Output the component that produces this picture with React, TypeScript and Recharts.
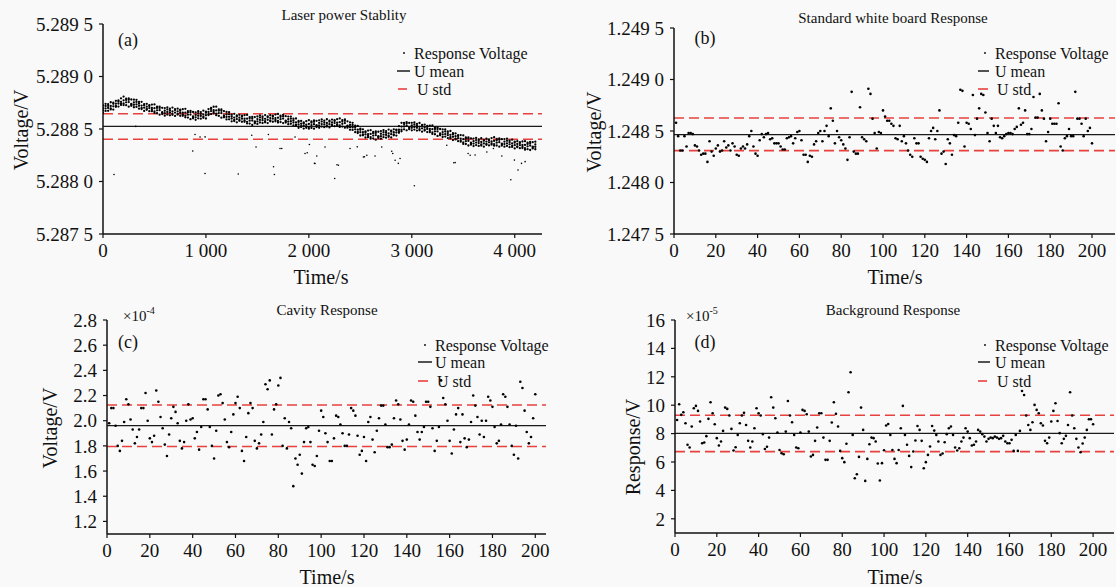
import React from 'react';
import { ScatterChart, Scatter, XAxis, YAxis, ReferenceLine } from 'recharts';

const W = 1116;
const H = 587;
const XH = 30;
const YW = 80;
const SERIF = "'Liberation Serif', 'Times New Roman', serif";
const RED = '#e8413e';
const INK = '#111';

// sampling instants for panels b, c, d (one reading per second)
const sampleTimes = Array.from({ length: 200 }, (_, i) => i + 1);

// (a) laser power: dense band, [time s, readings in µV above 5.288 V]
const aBandRows: number[][] = [
  [0, 724, 699, 676, 652], [25, 720, 696, 672, 740], [50, 700, 736, 673, 720], [75, 755, 697, 719, 686],
  [100, 740, 685, 750, 716], [125, 711, 741, 768, 719], [150, 772, 714, 743, 763], [175, 742, 792, 729, 759],
  [200, 773, 743, 809, 728], [225, 727, 777, 754, 789], [250, 778, 756, 713, 791], [275, 732, 781, 739, 721],
  [300, 779, 754, 731, 707], [325, 758, 734, 710, 778], [350, 721, 757, 694, 741], [375, 759, 701, 723, 690],
  [400, 727, 672, 737, 703], [425, 683, 713, 740, 691], [450, 728, 670, 699, 719], [475, 683, 733, 670, 700],
  [500, 698, 668, 734, 653], [525, 651, 701, 678, 713], [550, 701, 679, 636, 714], [575, 653, 702, 660, 642],
  [600, 699, 674, 651, 627], [625, 686, 662, 638, 706], [650, 657, 693, 630, 677], [675, 704, 646, 668, 635],
  [700, 680, 625, 690, 656], [725, 637, 667, 694, 645], [750, 684, 626, 655, 675], [775, 639, 689, 626, 656],
  [800, 656, 626, 692, 611], [825, 609, 659, 636, 671], [850, 659, 637, 594, 672], [875, 613, 662, 620, 602],
  [900, 659, 634, 611, 587], [925, 650, 626, 602, 670], [950, 625, 661, 598, 645], [975, 675, 617, 639, 606],
  [1000, 655, 600, 665, 631], [1025, 633, 663, 690, 641], [1050, 700, 642, 671, 691], [1075, 662, 712, 649, 679],
  [1100, 677, 647, 713, 632], [1125, 625, 675, 652, 687], [1150, 673, 651, 608, 686], [1175, 622, 671, 629, 611],
  [1200, 663, 638, 615, 591], [1225, 640, 616, 592, 660], [1250, 600, 636, 573, 620], [1275, 645, 587, 609, 576],
  [1300, 619, 564, 629, 595], [1325, 578, 608, 635, 586], [1350, 627, 569, 598, 618], [1375, 582, 632, 569, 599],
  [1400, 598, 568, 634, 553], [1425, 552, 602, 579, 614], [1450, 603, 581, 538, 616], [1475, 565, 614, 572, 554],
  [1500, 620, 595, 572, 548], [1525, 610, 586, 562, 630], [1550, 584, 620, 557, 604], [1575, 633, 575, 597, 564],
  [1600, 611, 556, 621, 587], [1625, 574, 604, 631, 582], [1650, 627, 569, 598, 618], [1675, 587, 637, 574, 604],
  [1700, 607, 577, 643, 562], [1725, 566, 616, 593, 628], [1750, 621, 599, 556, 634], [1775, 573, 622, 580, 562],
  [1800, 618, 593, 570, 546], [1825, 598, 574, 550, 618], [1850, 562, 598, 535, 582], [1875, 600, 542, 564, 531],
  [1900, 567, 512, 577, 543], [1925, 520, 550, 577, 528], [1950, 562, 504, 533, 553], [1975, 525, 575, 512, 542],
  [2000, 548, 518, 584, 503], [2025, 510, 560, 537, 572], [2050, 568, 546, 503, 581], [2075, 529, 578, 536, 518],
  [2100, 583, 558, 535, 511], [2125, 571, 547, 523, 591], [2150, 544, 580, 517, 564], [2175, 593, 535, 557, 524],
  [2200, 570, 515, 580, 546], [2225, 533, 563, 590, 541], [2250, 585, 527, 556, 576], [2275, 544, 594, 531, 561],
  [2300, 565, 535, 601, 520], [2325, 523, 573, 550, 585], [2350, 578, 556, 513, 591], [2375, 524, 573, 531, 513],
  [2400, 564, 539, 516, 492], [2425, 539, 515, 491, 559], [2450, 497, 533, 470, 517], [2475, 530, 472, 494, 461],
  [2500, 493, 438, 503, 469], [2525, 440, 470, 497, 448], [2550, 477, 419, 448, 468], [2575, 435, 485, 422, 452],
  [2600, 453, 423, 489, 408], [2625, 410, 460, 437, 472], [2650, 463, 441, 398, 476], [2675, 425, 474, 432, 414],
  [2700, 480, 455, 432, 408], [2725, 470, 446, 422, 490], [2750, 444, 480, 417, 464], [2775, 495, 437, 459, 426],
  [2800, 475, 420, 485, 451], [2825, 440, 470, 497, 448], [2850, 495, 437, 466, 486], [2875, 477, 527, 464, 494],
  [2900, 523, 493, 559, 478], [2925, 497, 547, 524, 559], [2950, 552, 530, 487, 565], [2975, 509, 558, 516, 498],
  [3000, 559, 534, 511, 487], [3025, 543, 519, 495, 563], [3050, 512, 548, 485, 532], [3075, 557, 499, 521, 488],
  [3100, 530, 475, 540, 506], [3125, 485, 515, 542, 493], [3150, 529, 471, 500, 520], [3175, 483, 533, 470, 500],
  [3200, 498, 468, 534, 453], [3225, 450, 500, 477, 512], [3250, 499, 477, 434, 512], [3275, 451, 500, 458, 440],
  [3300, 496, 471, 448, 424], [3325, 476, 452, 428, 496], [3350, 441, 477, 414, 461], [3375, 481, 423, 445, 412],
  [3400, 450, 395, 460, 426], [3425, 401, 431, 458, 409], [3450, 442, 384, 413, 433], [3475, 392, 442, 379, 409],
  [3500, 403, 373, 439, 358], [3525, 357, 407, 384, 419], [3550, 408, 386, 343, 421], [3575, 362, 411, 369, 351],
  [3600, 409, 384, 361, 337], [3625, 395, 371, 347, 415], [3650, 366, 402, 339, 386], [3675, 412, 354, 376, 343],
  [3700, 387, 332, 397, 363], [3725, 350, 380, 407, 358], [3750, 402, 344, 373, 393], [3775, 364, 414, 351, 381],
  [3800, 386, 356, 422, 341], [3825, 343, 393, 370, 405], [3850, 397, 375, 332, 410], [3875, 354, 403, 361, 343],
  [3900, 404, 379, 356, 332], [3925, 387, 363, 339, 407], [3950, 354, 390, 327, 374], [3975, 398, 340, 362, 329],
  [4000, 370, 315, 380, 346], [4025, 327, 357, 384, 335], [4050, 375, 317, 346, 366], [4075, 331, 381, 318, 348],
  [4100, 348, 318, 384, 303], [4125, 308, 358, 335, 370], [4150, 365, 343, 300, 378], [4175, 326, 375, 333, 315],
  [4200, 379, 354, 331, 307],
];

// (a) scattered low readings below the band, [time s, µV above 5.288 V]
const aLowRows: number[][] = [
  [107, 66], [318, 525], [872, 291], [894, 447], [943, 424], [991, 76], [992, 425],
  [1314, 72], [1445, 440], [1487, 329], [1607, 447], [1657, 141], [1665, 66], [1720, 314],
  [1737, 314], [1866, 424], [1963, 266], [1984, 274], [2005, 352], [2054, 173], [2060, 171],
  [2077, 243], [2157, 329], [2251, 28], [2273, 160], [2287, 155], [2400, 314], [2470, 330],
  [2530, 234], [2540, 236], [2563, 250], [2643, 243], [2708, 329], [2805, 288], [2815, 267],
  [2838, 202], [2869, 173], [2886, 219], [3025, -41], [3340, 345], [3408, 179], [3421, 180],
  [3547, 267], [3567, 250], [3615, 252], [3729, 281], [3793, 314], [3875, 243], [3962, 16],
  [3997, 204], [4032, 110], [4066, 173], [4101, 189],
];

const aMean = 5.288525;
const aStdHi = 5.288645;
const aStdLo = 5.288403;

// (b) standard white board, readings in 1e-5 V above 1.248 V
const bOffset1e5 = [
  58, 45, 31, 31, 45, 35, 48, 48, 47, 36, 35, 31, 27, 28, 28, 20, 40, 30, 26, 33,
  36, 30, 31, 40, 34, 36, 31, 38, 35, 27, 26, 33, 35, 33, 37, 45, 50, 35, 28, 26,
  41, 47, 44, 47, 48, 42, 43, 38, 38, 38, 35, 32, 32, 43, 44, 45, 38, 43, 49, 50,
  41, 27, 27, 20, 26, 25, 37, 40, 48, 50, 40, 50, 55, 45, 72, 60, 38, 50, 44, 41,
  37, 33, 22, 44, 88, 30, 28, 28, 73, 44, 42, 40, 91, 86, 62, 48, 33, 49, 48, 70,
  64, 60, 60, 57, 55, 43, 42, 55, 40, 45, 38, 31, 27, 25, 43, 38, 38, 25, 23, 22,
  20, 43, 50, 53, 42, 50, 70, 28, 30, 18, 42, 38, 27, 46, 45, 58, 90, 89, 35, 58,
  57, 52, 85, 46, 62, 72, 86, 85, 68, 48, 40, 62, 55, 48, 55, 44, 43, 45, 47, 48,
  48, 47, 52, 54, 72, 56, 58, 70, 47, 47, 52, 83, 63, 63, 86, 70, 62, 40, 49, 62,
  57, 57, 57, 77, 35, 31, 43, 45, 52, 45, 45, 88, 62, 62, 57, 45, 62, 50, 53, 38,
];
const bMean = 1.248464;
const bStdHi = 1.248626;
const bStdLo = 1.248309;

// (c) cavity response, in units of 1e-4 V
const cVolt = [
  1.98, 2.10, 2.10, 1.96, 1.80, 1.76, 1.84, 1.99, 2.17, 2.13, 2.01, 1.93, 1.82, 1.87, 1.93, 2.10, 2.10, 2.22, 2.00, 1.86,
  1.83, 1.88, 2.24, 2.15, 2.03, 1.94, 1.81, 1.72, 1.89, 2.02, 2.11, 2.07, 1.98, 1.84, 1.78, 1.83, 2.00, 2.13, 2.01, 2.02,
  1.86, 1.91, 1.77, 1.95, 2.17, 2.17, 2.09, 1.95, 1.80, 1.70, 1.92, 2.20, 2.21, 2.14, 2.01, 1.83, 1.79, 1.91, 2.05, 2.14,
  2.19, 2.10, 1.76, 1.68, 1.87, 2.06, 2.14, 2.10, 1.84, 1.78, 1.82, 1.89, 1.99, 2.29, 2.25, 2.32, 1.89, 2.09, 2.13, 2.28,
  2.34, 1.80, 2.02, 1.78, 1.99, 1.94, 1.48, 1.70, 1.65, 1.73, 1.58, 1.83, 1.94, 1.95, 1.83, 1.65, 1.64, 1.72, 1.92, 2.08,
  2.03, 1.90, 1.83, 1.68, 1.68, 1.86, 2.04, 2.03, 1.97, 1.90, 1.80, 1.80, 1.89, 2.10, 2.08, 2.04, 1.88, 1.73, 1.76, 1.87,
  1.68, 1.99, 2.03, 1.85, 1.75, 1.92, 2.02, 2.12, 2.12, 1.97, 1.79, 1.79, 1.81, 2.02, 2.16, 2.13, 2.01, 1.84, 1.77, 1.85,
  1.97, 2.16, 2.15, 2.04, 1.91, 1.85, 1.91, 1.95, 2.15, 2.15, 2.11, 1.94, 1.76, 1.84, 1.95, 2.32, 2.18, 2.13, 2.00, 1.84,
  1.74, 1.93, 2.05, 2.10, 1.83, 2.05, 1.86, 1.79, 1.85, 1.99, 2.20, 2.12, 2.03, 1.89, 2.00, 1.87, 2.00, 2.19, 2.16, 2.11,
  1.95, 1.82, 1.84, 1.97, 2.21, 2.19, 2.11, 1.97, 1.80, 1.73, 1.96, 1.70, 2.31, 2.26, 2.08, 1.91, 1.82, 1.87, 2.02, 2.21,
];
const cMean = 1.961;
const cStdHi = 2.125;
const cStdLo = 1.795;

// (d) background response, in units of 1e-5 V
const dResp = [
  8.96, 10.07, 9.32, 9.50, 8.73, 7.21, 7.02, 8.50, 9.79, 9.95, 9.60, 8.85, 7.32, 7.37, 7.82, 9.04, 10.21, 9.43, 8.66, 7.68,
  7.16, 7.44, 8.19, 9.83, 9.74, 9.27, 8.33, 6.81, 7.04, 7.91, 8.73, 9.27, 9.46, 8.61, 7.49, 7.02, 7.44, 8.38, 9.79, 9.43,
  9.27, 7.96, 6.92, 7.07, 7.72, 10.56, 9.83, 9.08, 8.07, 6.85, 6.62, 6.55, 8.14, 10.30, 9.27, 8.80, 7.91, 7.02, 6.97, 8.07,
  9.67, 9.60, 9.36, 8.14, 6.39, 6.50, 7.49, 8.43, 9.43, 9.43, 7.72, 6.15, 6.15, 7.49, 8.78, 10.21, 9.39, 8.50, 6.78, 6.27,
  5.99, 7.28, 10.91, 12.32, 7.91, 4.86, 5.14, 6.36, 9.83, 8.26, 4.67, 6.22, 7.25, 7.72, 7.68, 7.44, 5.89, 4.70, 5.92, 6.83,
  8.57, 8.68, 7.91, 6.85, 6.22, 5.92, 6.85, 8.38, 9.95, 7.91, 7.21, 6.43, 5.64, 6.74, 7.51, 8.54, 8.26, 7.49, 5.56, 5.99,
  6.50, 7.09, 8.54, 8.21, 7.91, 7.44, 6.50, 6.60, 7.39, 7.96, 8.38, 8.50, 7.91, 7.02, 6.81, 6.97, 7.44, 7.72, 8.38, 8.14,
  7.68, 7.16, 7.21, 7.44, 8.26, 8.14, 7.96, 7.79, 7.44, 7.63, 7.72, 7.68, 7.79, 7.72, 7.63, 7.68, 7.84, 7.44, 7.32, 7.32,
  7.56, 6.78, 7.91, 6.78, 8.19, 11.00, 10.72, 9.27, 8.61, 8.26, 8.80, 10.02, 9.67, 9.43, 8.73, 8.57, 7.49, 7.32, 7.72, 8.85,
  9.60, 10.14, 8.89, 8.03, 7.32, 7.63, 7.84, 8.61, 10.91, 9.27, 8.38, 7.63, 7.02, 6.69, 7.30, 7.72, 8.26, 9.01, 9.01, 8.66,
];
const dMean = 8.02;
const dStdHi = 9.29;
const dStdLo = 6.73;

const ticks20 = [0, 20, 40, 60, 80, 100, 120, 140, 160, 180, 200];

// build point tables for the charts
const aBandPoints = aBandRows.flatMap(([t, ...vs]) => vs.map((v) => ({ x: t, y: 5.288 + v / 1e6 })));
const aLowPoints = aLowRows.map(([t, v]) => ({ x: t, y: 5.288 + v / 1e6 }));
const bPoints = bOffset1e5.map((v, i) => ({ x: sampleTimes[i], y: 1.248 + v / 1e5 }));
const cPoints = cVolt.map((v, i) => ({ x: sampleTimes[i], y: v }));
const dPoints = dResp.map((v, i) => ({ x: sampleTimes[i], y: v }));

const fmtThousands = (v: number) =>
  v >= 1000 ? `${Math.floor(v / 1000)} ${String(v % 1000).padStart(3, '0')}` : String(v);
const fmtSplit4 = (v: number) => {
  const s = v.toFixed(4);
  return `${s.slice(0, -1)} ${s.slice(-1)}`;
};

const panels = [
  {
    key: 'a', x0: 103, x1: 542, y0: 24, y1: 234,
    xDomain: [0, 4265], xTicks: [0, 1000, 2000, 3000, 4000], xFmt: fmtThousands,
    yDomain: [5.2875, 5.2895], yTicks: [5.2875, 5.288, 5.2885, 5.289, 5.2895], yFmt: fmtSplit4,
    series: [{ pts: aBandPoints, r: 1.15 }, { pts: aLowPoints, r: 0.8 }],
    mean: aMean, hi: aStdHi, lo: aStdLo,
  },
  {
    key: 'b', x0: 674, x1: 1115, y0: 28, y1: 234,
    xDomain: [0, 211], xTicks: ticks20, xFmt: (v: number) => String(v),
    yDomain: [1.2475, 1.2495], yTicks: [1.2475, 1.248, 1.2485, 1.249, 1.2495], yFmt: fmtSplit4,
    series: [{ pts: bPoints, r: 1.3 }], mean: bMean, hi: bStdHi, lo: bStdLo,
  },
  {
    key: 'c', x0: 107, x1: 546, y0: 320, y1: 534,
    xDomain: [0, 205], xTicks: ticks20, xFmt: (v: number) => String(v),
    yDomain: [1.1, 2.8], yTicks: [1.2, 1.4, 1.6, 1.8, 2.0, 2.2, 2.4, 2.6, 2.8], yFmt: (v: number) => v.toFixed(1),
    series: [{ pts: cPoints, r: 1.3 }], mean: cMean, hi: cStdHi, lo: cStdLo,
  },
  {
    key: 'd', x0: 675, x1: 1114, y0: 320, y1: 533,
    xDomain: [0, 210], xTicks: ticks20, xFmt: (v: number) => String(v),
    yDomain: [1, 16], yTicks: [2, 4, 6, 8, 10, 12, 14, 16], yFmt: (v: number) => String(v),
    series: [{ pts: dPoints, r: 1.3 }], mean: dMean, hi: dStdHi, lo: dStdLo,
  },
];

function Panel({ p }: { p: any }) {
  const tickStyle = { fill: INK, fontSize: 19, fontFamily: SERIF };
  return (
    <div style={{ position: 'absolute', left: 0, top: 0 }}>
      <ScatterChart
        width={W}
        height={H}
        margin={{ top: p.y0, right: W - p.x1, bottom: H - p.y1 - XH, left: p.x0 - YW }}
      >
        <XAxis
          type="number"
          dataKey="x"
          domain={p.xDomain}
          ticks={p.xTicks}
          interval={0}
          allowDataOverflow
          height={XH}
          tickFormatter={p.xFmt}
          tick={tickStyle}
          tickSize={4}
          tickMargin={6}
          axisLine={{ stroke: INK, strokeWidth: 1.5 }}
          tickLine={{ stroke: INK, strokeWidth: 1.2 }}
        />
        <YAxis
          type="number"
          dataKey="y"
          domain={p.yDomain}
          ticks={p.yTicks}
          interval={0}
          allowDataOverflow
          width={YW}
          tickFormatter={p.yFmt}
          tick={tickStyle}
          tickSize={4}
          tickMargin={6}
          axisLine={{ stroke: INK, strokeWidth: 1.5 }}
          tickLine={{ stroke: INK, strokeWidth: 1.2 }}
        />
        {p.series.map((s: any, i: number) => (
          <Scatter
            key={i}
            data={s.pts}
            isAnimationActive={false}
            shape={(d: any) => <circle cx={d.cx} cy={d.cy} r={s.r} fill="#000" />}
          />
        ))}
        <ReferenceLine y={p.mean} stroke="#1a1a1a" strokeWidth={1.3} />
        <ReferenceLine y={p.hi} stroke={RED} strokeWidth={1.6} strokeDasharray="10 5" />
        <ReferenceLine y={p.lo} stroke={RED} strokeWidth={1.6} strokeDasharray="10 5" />
      </ScatterChart>
    </div>
  );
}

function Legend({ dotX, textX, stdTextX, ys, line, dash }: any) {
  const t = { fontFamily: SERIF, fontSize: 16, fill: INK, dominantBaseline: 'central' as const };
  return (
    <g>
      <circle cx={dotX} cy={ys[0]} r={0.9} fill="#000" />
      <text x={textX} y={ys[0]} {...t}>Response Voltage</text>
      <line x1={line[0]} x2={line[1]} y1={ys[1]} y2={ys[1]} stroke="#1a1a1a" strokeWidth={1.5} />
      <text x={textX} y={ys[1]} {...t}>U mean</text>
      <line x1={dash[0]} x2={dash[1]} y1={ys[2]} y2={ys[2]} stroke={RED} strokeWidth={1.6} />
      <text x={stdTextX} y={ys[2]} {...t}>U std</text>
    </g>
  );
}

export default function App() {
  const c = { fontFamily: SERIF, fill: INK, textAnchor: 'middle' as const, dominantBaseline: 'central' as const };
  return (
    <div style={{ position: 'absolute', left: 0, top: 0, width: W, height: H, background: '#f9f9f9', overflow: 'hidden' }}>
      {panels.map((p) => (
        <Panel key={p.key} p={p} />
      ))}
      <svg width={W} height={H} style={{ position: 'absolute', left: 0, top: 0 }}>
        {/* titles */}
        <text x={344} y={15} fontSize={15} {...c}>Laser power Stablity</text>
        <text x={893} y={18} fontSize={15} {...c}>Standard white board Response</text>
        <text x={327} y={310} fontSize={15} {...c}>Cavity Response</text>
        <text x={893} y={310} fontSize={15} {...c}>Background Response</text>

        {/* panel tags */}
        <text x={128} y={40} fontSize={18} {...c}>(a)</text>
        <text x={705} y={38} fontSize={18} {...c}>(b)</text>
        <text x={128} y={342} fontSize={18} {...c}>(c)</text>
        <text x={705} y={342} fontSize={18} {...c}>(d)</text>

        {/* axis titles */}
        <text x={321} y={277} fontSize={20} {...c}>Time/s</text>
        <text x={895} y={277} fontSize={20} {...c}>Time/s</text>
        <text x={327} y={577} fontSize={20} {...c}>Time/s</text>
        <text x={895} y={577} fontSize={20} {...c}>Time/s</text>
        <text x={21} y={130} fontSize={20} transform="rotate(-90 21 130)" {...c}>Voltage/V</text>
        <text x={594} y={132} fontSize={20} transform="rotate(-90 594 132)" {...c}>Voltage/V</text>
        <text x={50} y={428} fontSize={20} transform="rotate(-90 50 428)" {...c}>Voltage/V</text>
        <text x={633} y={447} fontSize={20} transform="rotate(-90 633 447)" {...c}>Response/V</text>

        {/* scale factors */}
        <text x={123} y={321} fontSize={15} fontFamily={SERIF} fill={INK}>
          ×10<tspan dy={-7} fontSize={10}>-4</tspan>
        </text>
        <text x={686} y={321} fontSize={15} fontFamily={SERIF} fill={INK}>
          ×10<tspan dy={-7} fontSize={10}>-5</tspan>
        </text>

        <Legend dotX={404} textX={414} stdTextX={417} ys={[53, 71, 89]} line={[397, 410]} dash={[398, 407]} />
        <Legend dotX={985} textX={995} stdTextX={997} ys={[53, 71, 89]} line={[978, 989]} dash={[978, 988]} />
        <Legend dotX={425} textX={435} stdTextX={437} ys={[345, 362, 381]} line={[418, 432]} dash={[418, 428]} />
        <Legend dotX={985} textX={995} stdTextX={997} ys={[345, 362, 381]} line={[978, 990]} dash={[978, 987]} />
      </svg>
    </div>
  );
}
